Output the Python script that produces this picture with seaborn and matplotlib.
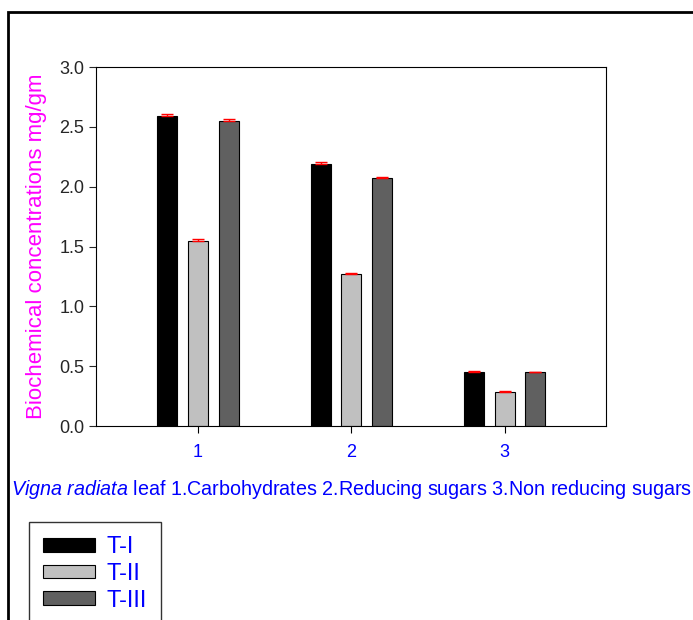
import pandas as pd
import seaborn as sns
import matplotlib.pyplot as plt
from matplotlib.patches import Rectangle

# data
groups = ["1", "2", "3"]
treatments = ["T-I", "T-II", "T-III"]
t1 = [2.59, 2.19, 0.455]
t2 = [1.55, 1.27, 0.285]
t3 = [2.55, 2.07, 0.45]
t1_err = [0.015, 0.015, 0.005]
t2_err = [0.01, 0.01, 0.01]
t3_err = [0.015, 0.012, 0.005]
colors = ["#000000", "#c0c0c0", "#606060"]

df = pd.DataFrame({
    "group": groups * 3,
    "treatment": [t for t in treatments for _ in groups],
    "value": t1 + t2 + t3,
    "err": t1_err + t2_err + t3_err,
})

sns.set_style("white")
plt.rcParams["font.family"] = ["Liberation Sans", "DejaVu Sans"]
plt.rcParams["mathtext.fontset"] = "custom"
plt.rcParams["mathtext.it"] = "Liberation Sans:italic"
plt.rcParams["mathtext.rm"] = "Liberation Sans"

fig = plt.figure(figsize=(6.93, 6.2), dpi=100)
ax = fig.add_axes([0.1385, 0.3129, 0.736, 0.579])

sns.barplot(data=df, x="group", y="value", hue="treatment", order=groups,
            hue_order=treatments, palette=colors, width=0.6, gap=0.35,
            edgecolor="black", linewidth=0.8, ax=ax, legend=True)

# upper error bars in red
for bars, (name, sub) in zip(ax.containers, df.groupby("treatment", sort=False)):
    xs = [b.get_x() + b.get_width() / 2 for b in bars]
    ys = [b.get_height() for b in bars]
    ax.errorbar(xs, ys, yerr=[[0] * len(ys), list(sub["err"])], fmt="none",
                ecolor="red", elinewidth=1, capsize=4, capthick=1)

ax.set_xlim(-0.665, 2.66)
ax.set_ylim(0, 3.0)
ax.set_yticks([0, 0.5, 1.0, 1.5, 2.0, 2.5, 3.0])
ax.set_yticklabels(["0.0", "0.5", "1.0", "1.5", "2.0", "2.5", "3.0"])
for s in ax.spines.values():
    s.set_visible(True)
    s.set_color("black")
    s.set_linewidth(0.8)
ax.tick_params(axis="both", direction="out", length=5, width=0.8, labelsize=13,
               left=True, bottom=True)
ax.tick_params(axis="x", colors="black", labelcolor="blue", pad=8)

ax.set_ylabel("Biochemical concentrations mg/gm", color="#ff00ff", fontsize=16,
              labelpad=9)
ax.set_xlabel(r"$\it{Vigna\ radiata}$ leaf 1.Carbohydrates 2.Reducing sugars 3.Non reducing sugars",
              color="blue", fontsize=14.2, labelpad=12)

leg = ax.legend(loc="upper left", bbox_to_anchor=(29 / 693, 1 - 522 / 620),
                bbox_transform=fig.transFigure, frameon=True, fancybox=False,
                fontsize=17, handlelength=2.2, handleheight=0.5, labelspacing=0.2,
                borderpad=0.6, handletextpad=0.5, borderaxespad=0)
leg.get_frame().set_edgecolor("black")
leg.get_frame().set_linewidth(1)
for t in leg.get_texts():
    t.set_color("blue")

# outer border of the figure
fig.patches.append(Rectangle((8 / 693, -0.1), 1.2, 1.1 - 12 / 620,
                             transform=fig.transFigure, fill=False,
                             edgecolor="black", linewidth=2))

fig.savefig("out.png", dpi=100)
